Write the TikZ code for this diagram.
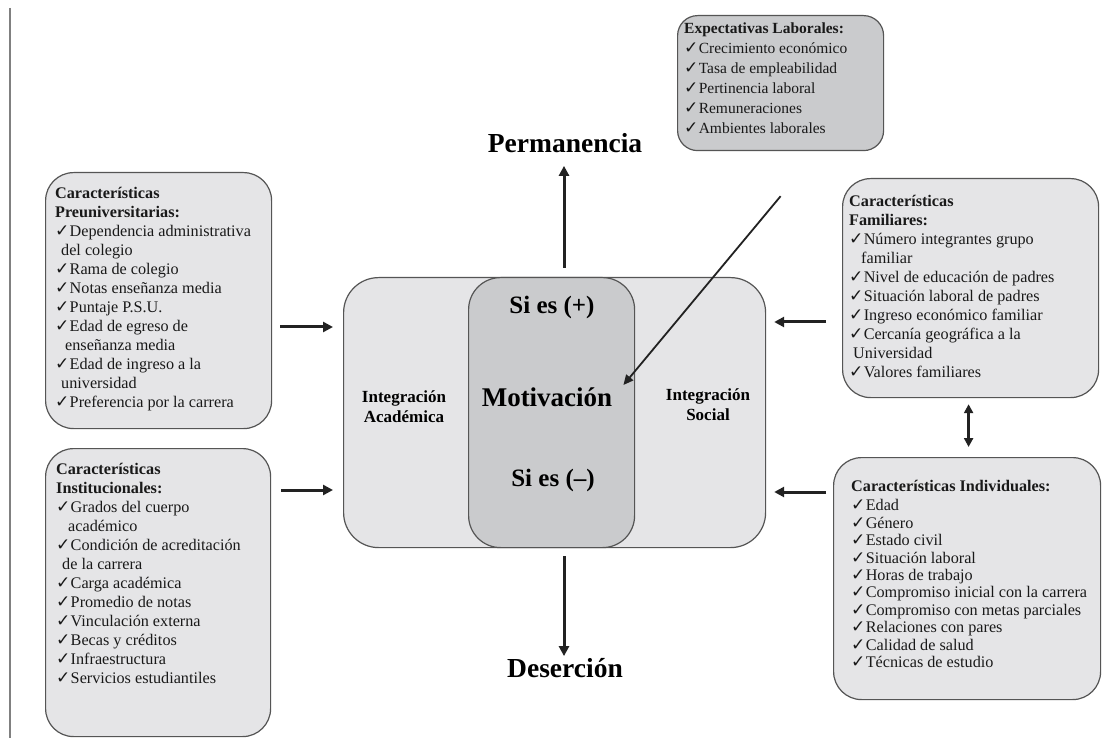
\documentclass[tikz,border=0pt]{standalone}
\usepackage{fontspec}
\setmainfont{Liberation Serif}
\newfontfamily\symfont{DejaVu Sans}
\usetikzlibrary{arrows.meta,calc}
\newcommand\ck{{\symfont\fontsize{17}{17}\selectfont ✓}\hspace{0.3pt}}
\definecolor{bordergray}{HTML}{555555}
\definecolor{panelfill}{HTML}{E5E5E7}
\definecolor{darkfill}{HTML}{CACBCD}
\definecolor{arrowcol}{HTML}{222222}
\begin{document}
\begin{tikzpicture}[x=1pt,y=-1pt,
  panel/.style={draw=bordergray, line width=1.2pt, rounded corners=28pt, fill=panelfill, inner sep=0pt, anchor=north west},
  lst/.style={anchor=north west, align=left, inner sep=0pt, text=black!90, font=\fontsize{16.2}{19}\selectfont},
  arr/.style={line width=3pt, draw=arrowcol, -{Triangle[length=10pt,width=10pt]}},
  darr/.style={line width=3pt, draw=arrowcol, {Triangle[length=9pt,width=9pt]}-{Triangle[length=9pt,width=9pt]}},
  thinarr/.style={line width=1.8pt, draw=arrowcol, -{Triangle[length=10pt,width=9pt]}},
  big/.style={font=\bfseries\fontsize{27}{30}\selectfont, inner sep=0pt},
  mid/.style={font=\bfseries\fontsize{17}{20}\selectfont, align=center, inner sep=0pt}
]
\useasboundingbox (0,0) rectangle (1104,738);
\fill[white] (0,0) rectangle (1104,738);
\draw[gray, line width=1.5pt] (10,8) -- (10,738);

% side panels
\node[panel, minimum width=226pt, minimum height=256pt] (pre) at (45,172) {};
\node[lst] (pretxt) at (55,187) {\textbf{Características}\\
\textbf{Preuniversitarias:}\\
\ck Dependencia administrativa\\
\hspace*{6pt}del colegio\\
\ck Rama de colegio\\
\ck Notas enseñanza media\\
\ck Puntaje P.S.U.\\
\ck Edad de egreso de\\
\hspace*{10pt}enseñanza media\\
\ck Edad de ingreso a la\\
\hspace*{6pt}universidad\\
\ck Preferencia por la carrera};

\node[panel, minimum width=225pt, minimum height=288pt] (inst) at (45,448) {};
\node[lst] (insttxt) at (56,463) {\textbf{Características}\\
\textbf{Institucionales:}\\
\ck Grados del cuerpo\\
\hspace*{12pt}académico\\
\ck Condición de acreditación\\
\hspace*{6pt}de la carrera\\
\ck Carga académica\\
\ck Promedio de notas\\
\ck Vinculación externa\\
\ck Becas y créditos\\
\ck Infraestructura\\
\ck Servicios estudiantiles};

\node[panel, minimum width=256pt, minimum height=219pt] (fam) at (842,178) {};
\node[lst] (famtxt) at (849,195) {\textbf{Características}\\
\textbf{Familiares:}\\
\ck Número integrantes grupo\\
\hspace*{12pt}familiar\\
\ck Nivel de educación de padres\\
\ck Situación laboral de padres\\
\ck Ingreso económico familiar\\
\ck Cercanía geográfica a la\\
\hspace*{4pt}Universidad\\
\ck Valores familiares};

\node[panel, minimum width=267pt, minimum height=242pt] (ind) at (833,457) {};
\node[lst, font=\fontsize{16.2}{17.4}\selectfont] (indtxt) at (851,480) {\textbf{Características Individuales:}\\[2pt]
\ck Edad\\
\ck Género\\
\ck Estado civil\\
\ck Situación laboral\\
\ck Horas de trabajo\\
\ck Compromiso inicial con la carrera\\
\ck Compromiso con metas parciales\\
\ck Relaciones con pares\\
\ck Calidad de salud\\
\ck Técnicas de estudio};

\node[panel, fill=darkfill, rounded corners=20pt, minimum width=206pt, minimum height=135pt] (exp) at (677,15) {};
\node[lst, font=\fontsize{15.5}{20}\selectfont] (exptxt) at (684,23) {\textbf{Expectativas Laborales:}\\
\ck Crecimiento económico\\
\ck Tasa de empleabilidad\\
\ck Pertinencia laboral\\
\ck Remuneraciones\\
\ck Ambientes laborales};

% centre
\node[panel, rounded corners=35pt, minimum width=422pt, minimum height=270pt] (outer) at (343,277) {};
\node[panel, fill=darkfill, rounded corners=32pt, minimum width=166pt, minimum height=270pt] (inner) at (468,277) {};
\node[big] (mot) at (547,397) {Motivación};
\node[big, font=\bfseries\fontsize{25}{28}\selectfont] (pos) at (552,307) {Si es (+)};
\node[big, font=\bfseries\fontsize{25}{28}\selectfont] (neg) at (553,480) {Si es (–)};
\node[mid] (ia) at (404,407) {Integración\\Académica};
\node[mid] (is) at (708,405) {Integración\\Social};
\node[big, font=\bfseries\fontsize{27.5}{30}\selectfont] (perm) at (565,143) {Permanencia};
\node[big, font=\bfseries\fontsize{27.5}{30}\selectfont] (des) at (565,668) {Deserción};

% connectors
\coordinate (ya) at (0,327);
\coordinate (yb) at (0,490);
\coordinate (yc) at (0,322);
\coordinate (yd) at (0,492);
\draw[arr] ($(pre.east |- ya)+(8,0)$) -- ($(outer.west |- ya)+(-10,0)$);
\draw[arr] ($(inst.east |- yb)+(10,0)$) -- ($(outer.west |- yb)+(-10,0)$);
\draw[arr] ($(fam.west |- yc)+(-16,0)$) -- ($(outer.east |- yc)+(8,0)$);
\draw[arr] ($(ind.west |- yd)+(-7,0)$) -- ($(outer.east |- yd)+(8,0)$);
\draw[arr] ($(outer.north -| perm)+(-1,-9)$) -- ($(perm.south)+(-1,13)$);
\draw[arr] ($(outer.south -| des)+(-1,8)$) -- ($(des.north)+(-1,-2)$);
\draw[thinarr] ($(exp.south)+(0,45)$) -- ($(mot.east)+(11,-12)$);
\draw[darr] ($(fam.south)+(-2,6)$) -- ($(fam.south |- ind.north)+(-2,-10)$);
\end{tikzpicture}
\end{document}
